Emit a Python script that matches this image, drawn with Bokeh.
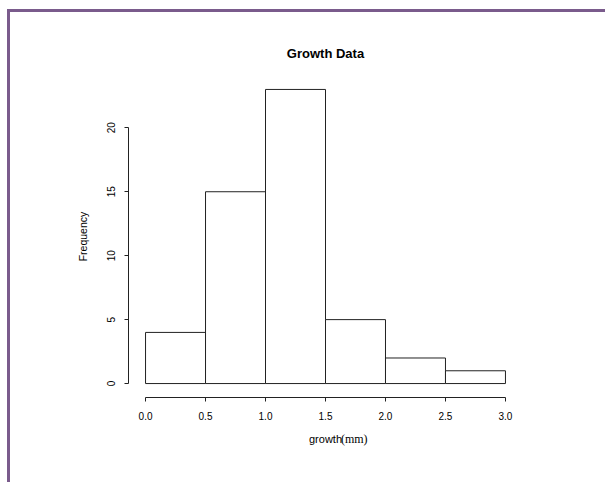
from bokeh.plotting import figure
from bokeh.models import Range1d, FixedTicker, LinearAxis
from bokeh.embed import file_html
from bokeh.resources import INLINE

# Data
bin_edges = [0.0, 0.5, 1.0, 1.5, 2.0, 2.5, 3.0]
counts = [4, 15, 23, 5, 2, 1]
x_ticks = [0.0, 0.5, 1.0, 1.5, 2.0, 2.5, 3.0]
x_tick_labels = ["0.0", "0.5", "1.0", "1.5", "2.0", "2.5", "3.0"]
y_ticks = [0, 5, 10, 15, 20]
title_text = "Growth Data"
x_label_main = "growth"
x_label_unit = "(mm)"
x_label_unit_pos = 1.74   # data x where the "(mm)" part of the label is centred
y_label = "Frequency"

lefts = bin_edges[:-1]
rights = bin_edges[1:]

FONT = "Liberation Sans"
purple = "#7a5b8c"

p = figure(width=598, height=473, output_backend="svg", toolbar_location=None,
           x_range=Range1d(-0.142, 3.142), y_range=Range1d(-1.09, 24.09),
           min_border_left=118, min_border_right=86, min_border_top=63, min_border_bottom=88,
           title=title_text)
p.styles = {"margin-left": "7px", "margin-top": "9px",
            "border-top": f"3px solid {purple}", "border-left": f"3px solid {purple}"}

p.title.text_font = FONT
p.title.text_font_size = "13px"
p.title.text_font_style = "bold"
p.title.align = "center"
p.title.text_color = "black"
p.title.standoff = 30

p.quad(left=lefts, right=rights, top=counts, bottom=0,
       fill_color="white", line_color="#222222", line_width=1)

p.xgrid.visible = False
p.ygrid.visible = False
p.outline_line_color = None
p.background_fill_color = "white"
p.border_fill_color = "white"

xa = p.xaxis[0]
xa.ticker = FixedTicker(ticks=x_ticks)
xa.major_label_overrides = {t: l for t, l in zip(x_ticks, x_tick_labels)}
xa.bounds = (x_ticks[0], x_ticks[-1])
xa.axis_label = x_label_main
ya = p.yaxis[0]
ya.ticker = FixedTicker(ticks=y_ticks)
ya.bounds = (y_ticks[0], y_ticks[-1])
ya.major_label_orientation = "vertical"
ya.axis_label = y_label

for ax in (xa, ya):
    ax.major_tick_in = 0
    ax.major_tick_out = 4
    ax.minor_tick_in = 0
    ax.minor_tick_out = 0
    ax.axis_line_color = "#222222"
    ax.major_tick_line_color = "#222222"
    ax.major_label_text_font = FONT
    ax.major_label_text_font_size = "10px"
    ax.major_label_text_color = "black"
    ax.axis_label_text_font = FONT
    ax.axis_label_text_font_size = "10.5px"
    ax.axis_label_text_font_style = "normal"
    ax.axis_label_text_color = "black"

xa.axis_label_text_font_size = "11px"
xa.major_label_standoff = 10
xa.axis_label_standoff = 10
ya.major_label_standoff = 9
ya.axis_label_standoff = 16

# the serif "(mm)" part of the x label, carried by a bare extra axis
unit_axis = LinearAxis(ticker=FixedTicker(ticks=[x_label_unit_pos]),
                       major_label_overrides={x_label_unit_pos: x_label_unit})
unit_axis.axis_line_color = None
unit_axis.major_tick_line_color = None
unit_axis.minor_tick_line_color = None
unit_axis.major_tick_in = 0
unit_axis.major_tick_out = 0
unit_axis.major_label_standoff = -16
unit_axis.major_label_text_font = "Liberation Serif"
unit_axis.major_label_text_font_size = "12px"
unit_axis.major_label_text_color = "black"
p.add_layout(unit_axis, "below")

open("out.html", "w").write(file_html(p, INLINE))
